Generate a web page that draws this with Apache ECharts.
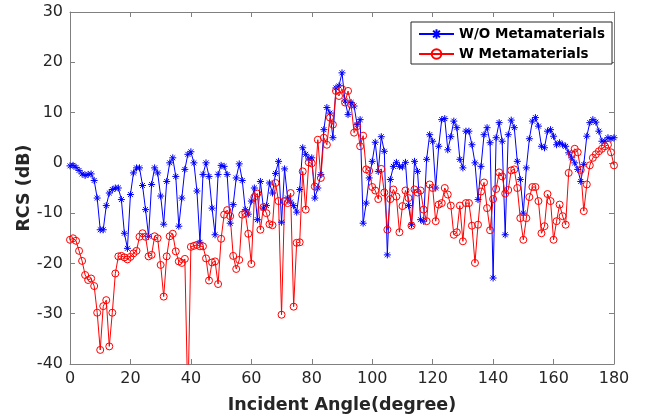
<!DOCTYPE html>
<html>
<head>
<meta charset="utf-8">
<script src="https://cdn.jsdelivr.net/npm/echarts@6/dist/echarts.min.js"></script>
<style>
  html, body { margin: 0; padding: 0; background: #fff; }
  #chart { width: 645px; height: 419px; }
</style>
</head>
<body>
<div id="chart"></div>
<script>
// Incident angle in degrees, one sample per degree
const angles = [
  0,1,2,3,4,5,6,7,8,9,10,11,12,13,14,15,16,17,18,19,20,21,22,23,24,25,26,27,28,29,
  30,31,32,33,34,35,36,37,38,39,40,41,42,43,44,45,46,47,48,49,50,51,52,53,54,55,56,57,58,59,
  60,61,62,63,64,65,66,67,68,69,70,71,72,73,74,75,76,77,78,79,80,81,82,83,84,85,86,87,88,89,
  90,91,92,93,94,95,96,97,98,99,100,101,102,103,104,105,106,107,108,109,110,111,112,113,114,115,116,117,118,119,
  120,121,122,123,124,125,126,127,128,129,130,131,132,133,134,135,136,137,138,139,140,141,142,143,144,145,146,147,148,149,
  150,151,152,153,154,155,156,157,158,159,160,161,162,163,164,165,166,167,168,169,170,171,172,173,174,175,176,177,178,179,180
];

// RCS without metamaterials (dB)
const rcsWithout = [
  -0.6,-0.5,-0.9,-1.5,-2.2,-2.5,-2.3,-2.2,-3.5,-7,
  -13.3,-13.3,-8.5,-6,-5.3,-5,-5,-7.3,-14,-17,
  -6.3,-2,-1,-1,-4.5,-9.3,-14.6,-4.3,-1,-2,
  -6.6,-12.2,-3.7,0,1,-2.7,-12.6,-7,-1.3,1.7,
  2.2,0,-5.6,-15.8,-2.3,0,-2.7,-9,-14.3,-2.3,
  -0.5,-0.7,-2.3,-12,-8.3,-3,-0.2,-3.5,-9.3,-10.2,
  -7.6,-5,-11.3,-3.7,-9,-8.5,-4,-6,-2.1,0.3,
  -11.8,-1.2,-7,-7.8,-8.5,-9.8,-5.3,3,1.7,0.8,
  1,-7,-5,-2.3,6.6,11,9.9,5,14.9,15.3,
  17.9,12.3,9.6,12,11.3,7.6,8.6,-12,-8,-3,
  0.3,4.1,-1.7,5.2,2.3,-18.3,-3.3,-0.7,0.1,-0.7,
  -0.8,0.1,-8.5,-12.3,0.3,-1.7,-11.3,-11.6,0.7,5.6,
  4.3,-5,3.3,8.6,8.8,2.6,5.2,8.3,7,0.7,
  -1,6.3,6.3,3.6,0,-7.3,-0.7,5.6,7,4,
  -22.9,5,8,4.3,-14.3,5.6,8.5,7,0.3,-3.3,
  -10,-1,4.8,8.3,9,7.3,3.3,3,6.3,6.6,
  5.3,3.6,4,3.6,3.3,2,1,0,-1.3,-3.7,
  -0.3,5.3,8,8.6,8.1,6.3,4.3,4.3,5,4.8,
  5
];

// RCS with metamaterials (dB)
const rcsWith = [
  -15.3,-15,-15.5,-17.5,-19.5,-22.3,-23.3,-23,-24.5,-29.8,
  -37.2,-28.5,-27.3,-36.5,-29.8,-22,-18.6,-18.5,-18.8,-19.2,
  -18.7,-18,-17.5,-14.7,-14,-14.7,-18.6,-18.3,-14.6,-15,
  -20.3,-26.6,-18.6,-14.6,-14.1,-17.6,-19.6,-19.9,-19.1,-48,
  -16.7,-16.5,-16.3,-16.6,-16.6,-19,-23.4,-19.8,-19.6,-24.1,
  -15.1,-10.3,-9.4,-10.6,-18.5,-21.1,-19.3,-10.3,-10,-14.1,
  -20.1,-6.8,-6.1,-13.3,-8.8,-10,-12.2,-12.4,-4,-7.6,
  -30.2,-7.6,-8,-6,-28.6,-15.9,-15.8,-1.7,-9.3,0.1,
  -0.1,-4.7,4.6,-3,5,3.6,9,7.6,14.3,13.3,
  14.7,12,14.3,11.6,6,7.3,3.3,5.4,-1.3,-1.6,
  -4.8,-5.5,-7.2,-1.2,-5.9,-13.3,-7.2,-5.3,-6.7,-13.8,
  -8.6,-5.5,-7,-12.5,-5.3,-5.9,-5.5,-9.3,-11.6,-4.3,
  -5,-11.6,-8.3,-8,-5,-6.3,-8.5,-14.3,-13.8,-8.5,
  -15.6,-8,-8,-12.5,-19.9,-12.3,-5.7,-3.9,-9,-13.4,
  -7.2,-5.2,-1.9,-2.7,-6.1,-5.4,-1.5,-1.3,-5,-11,
  -15.3,-11,-6.8,-4.8,-4.8,-7.6,-14,-12.6,-6.2,-7.6,
  -15.3,-11.6,-8.3,-10.6,-12.3,-2,1.7,2.8,2.1,-1.4,
  -9.6,-4.3,-0.5,1,1.7,2.3,2.8,3.3,3.6,2.1,
  -0.5
];

const seriesNames = ['W/O Metamaterials', 'W Metamaterials'];
const xTitle = 'Incident Angle(degree)';
const yTitle = 'RCS (dB)';

const FONT = 'DejaVu Sans';
const AXIS_GRAY = '#808080';
const TEXT_DARK = '#262626';

// eight-armed asterisk drawn as stroked segments
const ASTERISK = 'path://M0,5L10,5M5,0L5,10M1.5,1.5L8.5,8.5M8.5,1.5L1.5,8.5';

const pairs = (vals) => angles.map((a, i) => [a, vals[i]]);

const chart = echarts.init(document.getElementById('chart'), null, { renderer: 'canvas' });

// box-style frame: every side carries a line and inward ticks
const frameAxis = () => ({
  axisLine: { show: true, onZero: false, lineStyle: { color: AXIS_GRAY, width: 1 } },
  axisTick: { show: true, inside: true, length: 5, lineStyle: { color: AXIS_GRAY } },
  splitLine: { show: false }
});

chart.setOption({
  animation: false,
  backgroundColor: '#ffffff',
  grid: { left: 70, right: 31, top: 12, bottom: 55, containLabel: false },
  legend: {
    data: seriesNames,
    orient: 'vertical',
    right: 33,
    top: 22,
    itemWidth: 35,
    itemHeight: 12,
    itemGap: 6,
    padding: [5, 7, 3, 7],
    borderColor: '#262626',
    borderWidth: 1,
    backgroundColor: '#ffffff',
    textStyle: { fontFamily: FONT, fontSize: 13.5, fontWeight: 'bold', color: '#000' }
  },
  xAxis: [
    Object.assign({
      type: 'value', min: 0, max: 180, interval: 20, position: 'bottom',
      name: xTitle, nameLocation: 'middle', nameGap: 32, nameMoveOverlap: false,
      nameTextStyle: { fontFamily: FONT, fontSize: 17.5, fontWeight: 'bold', color: TEXT_DARK },
      axisLabel: { fontFamily: FONT, fontSize: 16, color: TEXT_DARK, margin: 7 }
    }, frameAxis()),
    Object.assign({
      type: 'value', min: 0, max: 180, interval: 20, position: 'top',
      axisLabel: { show: false }
    }, frameAxis())
  ],
  yAxis: [
    Object.assign({
      type: 'value', min: -40, max: 30, interval: 10, position: 'left',
      name: yTitle, nameLocation: 'middle', nameGap: 37, nameRotate: 90, nameMoveOverlap: false,
      nameTextStyle: { fontFamily: FONT, fontSize: 17.5, fontWeight: 'bold', color: TEXT_DARK },
      axisLabel: { fontFamily: FONT, fontSize: 16, color: TEXT_DARK, margin: 7 }
    }, frameAxis()),
    Object.assign({
      type: 'value', min: -40, max: 30, interval: 10, position: 'right',
      axisLabel: { show: false }
    }, frameAxis())
  ],
  series: [
    {
      name: seriesNames[0],
      type: 'line',
      xAxisIndex: 0, yAxisIndex: 0,
      data: pairs(rcsWithout),
      symbol: ASTERISK,
      symbolSize: 7,
      showAllSymbol: true,
      clip: true,
      lineStyle: { color: '#0000ff', width: 1 },
      itemStyle: { color: '#0000ff', borderColor: '#0000ff', borderWidth: 1 }
    },
    {
      name: seriesNames[1],
      type: 'line',
      xAxisIndex: 0, yAxisIndex: 0,
      data: pairs(rcsWith),
      symbol: 'circle',
      symbolSize: 7,
      showAllSymbol: true,
      clip: true,
      lineStyle: { color: '#ff0000', width: 1 },
      itemStyle: { color: 'rgba(255,255,255,0)', borderColor: '#ff0000', borderWidth: 1 }
    }
  ]
});
</script>
</body>
</html>
